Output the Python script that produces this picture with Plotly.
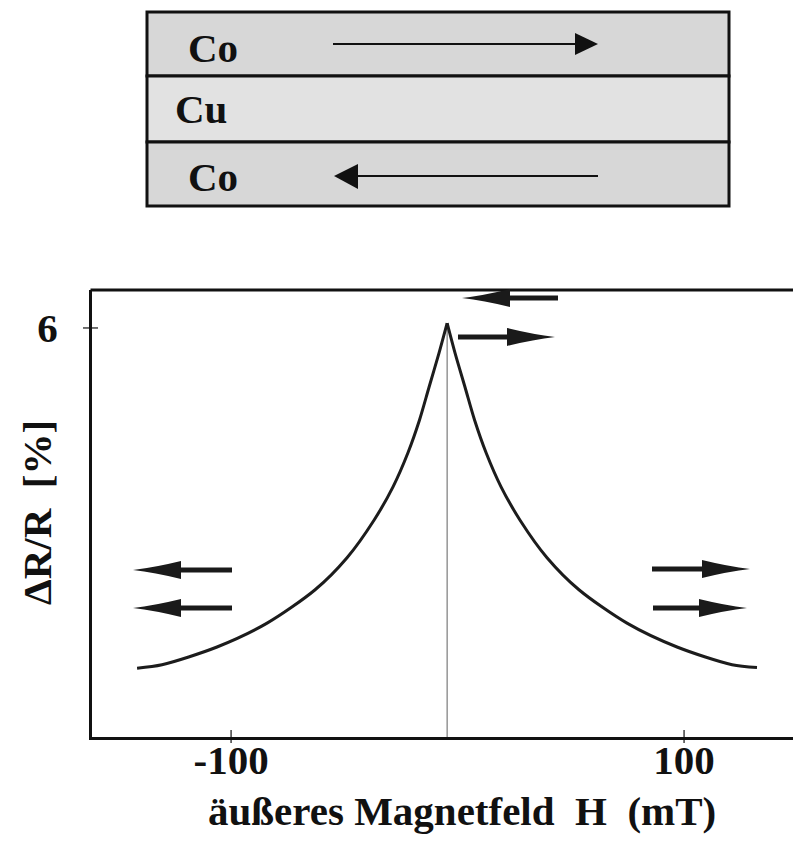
import plotly.graph_objects as go

# ---- data ----
H_left = [-141.5, -130.5, -106.2, -84.1, -62.9, -48.8, -36.9, -28.5, -21.9, -16.8, -12.6, -8.2, -4.6]
dRR_left = [1.01, 1.06, 1.32, 1.67, 2.16, 2.63, 3.18, 3.67, 4.17, 4.65, 5.13, 5.63, 6.07]
H_right = [-4.6, -1.1, 3.3, 7.5, 12.6, 19.2, 27.6, 39.5, 53.6, 74.8, 96.9, 121.2, 132.2]
dRR_right = [6.07, 5.63, 5.13, 4.65, 4.17, 3.67, 3.18, 2.63, 2.16, 1.67, 1.32, 1.06, 1.02]

x_tickvals = [-100, 100]
x_ticktext = ["-100", "100"]
y_tickvals = [6]
y_ticktext = ["6"]

layer_labels = ["Co", "Cu", "Co"]
x_title = "äußeres Magnetfeld  H  (mT)"
y_title = "ΔR/R  [%]"

# ---- layout helpers ----
W, HGT = 793, 848
FONT = "Liberation Serif"
INK = "#111111"
FS = 41


def PX(x):
    return x / W


def PY(y):
    return 1 - y / HGT


def path_px(points):
    return "M " + " L ".join(f"{PX(x):.5f},{PY(y):.5f}" for x, y in points) + " Z"


def fat_arrow(tail, tip, y, head=48, hh=9, sh=2.6):
    d = 1 if tip > tail else -1
    base = tip - d * head
    cx = tip - d * head * 0.45
    p = (f"M {PX(tail):.5f},{PY(y - sh):.5f} L {PX(base):.5f},{PY(y - sh):.5f} "
         f"L {PX(base):.5f},{PY(y - hh):.5f} "
         f"Q {PX(cx):.5f},{PY(y - 2.5):.5f} {PX(tip):.5f},{PY(y):.5f} "
         f"Q {PX(cx):.5f},{PY(y + 2.5):.5f} {PX(base):.5f},{PY(y + hh):.5f} "
         f"L {PX(base):.5f},{PY(y + sh):.5f} L {PX(tail):.5f},{PY(y + sh):.5f} Z")
    return dict(type="path", xref="paper", yref="paper", path=p,
                fillcolor="#1a1a1a", line=dict(width=0), layer="above")


fig = go.Figure()

# curve (two branches so the cusp at the peak stays sharp)
for hx, vy in ((H_left, dRR_left), (H_right, dRR_right)):
    fig.add_trace(go.Scatter(x=hx, y=vy, mode="lines",
                             line=dict(color="#1c1c1c", width=3, shape="spline", smoothing=0.8),
                             hoverinfo="skip"))

shapes = []
# thin vertical line under the peak
shapes.append(dict(type="line", xref="x", yref="y", x0=H_left[-1], x1=H_left[-1],
                   y0=0, y1=dRR_left[-1], line=dict(color="#7a7a7a", width=1.2), layer="below"))
# top frame line
shapes.append(dict(type="line", xref="paper", yref="paper", x0=PX(90.5), x1=1.0,
                   y0=PY(290), y1=PY(290), line=dict(color="#111", width=3)))
# crossing tick marks
for tv in x_tickvals:
    shapes.append(dict(type="line", xref="x", yref="y domain", x0=tv, x1=tv,
                       y0=-6 / 447, y1=7 / 447, line=dict(color="#111", width=1.2)))
for tv in y_tickvals:
    shapes.append(dict(type="line", xref="x domain", yref="y", x0=-9 / 701, x1=6 / 701,
                       y0=tv, y1=tv, line=dict(color="#111", width=1.2)))

# layered Co/Cu/Co sketch
layer_rows = [(12, 76, "#d7d7d7"), (76, 142, "#e2e2e2"), (142, 206, "#d7d7d7")]
for y0, y1, col in layer_rows:
    shapes.append(dict(type="rect", xref="paper", yref="paper", x0=PX(147), x1=PX(729),
                       y0=PY(y1), y1=PY(y0), fillcolor=col, line=dict(color="#111", width=3)))
# thin arrows inside the sketch
shapes.append(dict(type="line", xref="paper", yref="paper", x0=PX(333), x1=PX(578),
                   y0=PY(44), y1=PY(44), line=dict(color="#111", width=2)))
shapes.append(dict(type="path", xref="paper", yref="paper",
                   path=path_px([(598, 44), (575, 33), (575, 55)]), fillcolor="#111",
                   line=dict(width=0)))
shapes.append(dict(type="line", xref="paper", yref="paper", x0=PX(355), x1=PX(598),
                   y0=PY(176), y1=PY(176), line=dict(color="#111", width=2)))
shapes.append(dict(type="path", xref="paper", yref="paper",
                   path=path_px([(334, 176), (358, 164), (358, 189)]), fillcolor="#111",
                   line=dict(width=0)))

# magnetisation arrows in the plot
for tail, tip, y in [(232, 133, 570), (232, 133, 608), (652, 750, 569), (653, 747, 608),
                     (558, 462, 298), (458, 555, 337)]:
    shapes.append(fat_arrow(tail, tip, y))

annotations = []
for lab, (cx, cy) in zip(layer_labels, [(213, 48), (201, 109), (213, 177)]):
    annotations.append(dict(text=lab, x=PX(cx), y=PY(cy), xref="paper", yref="paper",
                            showarrow=False, xanchor="center", yanchor="middle",
                            font=dict(family=FONT, size=FS, color=INK, weight="bold")))
annotations.append(dict(text=x_title, x=PX(462), y=PY(811), xref="paper", yref="paper",
                        showarrow=False, xanchor="center", yanchor="middle",
                        font=dict(family=FONT, size=FS, color=INK, weight="bold")))
annotations.append(dict(text=y_title, x=PX(37), y=PY(513), xref="paper", yref="paper",
                        showarrow=False, xanchor="center", yanchor="middle", textangle=-90,
                        font=dict(family=FONT, size=FS, color=INK, weight="bold")))

tickfont = dict(family=FONT, size=FS, color=INK, weight="bold")
fig.update_layout(
    width=W, height=HGT,
    margin=dict(l=0, r=0, t=0, b=0),
    paper_bgcolor="white", plot_bgcolor="white",
    showlegend=False,
    shapes=shapes, annotations=annotations,
    xaxis=dict(range=[-161.4, 148.1], domain=[92 / W, 1.0], showline=True, linewidth=3,
               linecolor="#111", showgrid=False, zeroline=False, tickvals=x_tickvals,
               ticktext=x_ticktext, ticks="", ticklen=0, tickfont=tickfont,
               ticklabelstandoff=-15, automargin=False, fixedrange=True),
    yaxis=dict(range=[0, 6.557], domain=[(HGT - 737) / HGT, (HGT - 290) / HGT], showline=True,
               linewidth=3, linecolor="#111", showgrid=False, zeroline=False,
               tickvals=y_tickvals, ticktext=y_ticktext, ticks="", ticklen=0, tickfont=tickfont,
               ticklabelstandoff=23, automargin=False, fixedrange=True),
)

fig.write_html("out.html", config={"displayModeBar": False},
               post_script="document.body.style.margin='0px';")
